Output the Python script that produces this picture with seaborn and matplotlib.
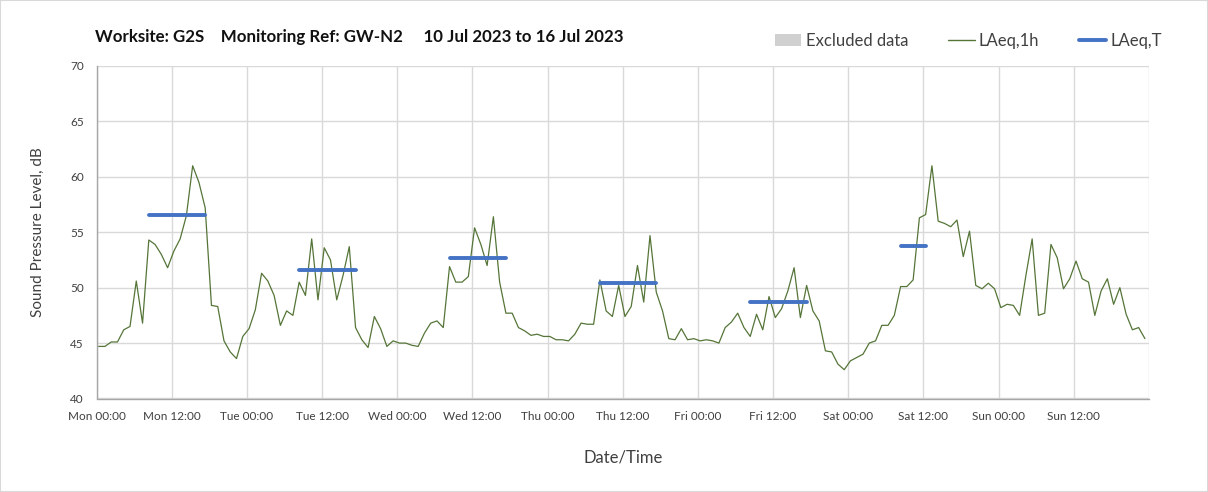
import numpy as np
import pandas as pd
import matplotlib
matplotlib.use("Agg")
import matplotlib.pyplot as plt
import seaborn as sns
from matplotlib.patches import Patch, Rectangle
from matplotlib.lines import Line2D

# ---- data -------------------------------------------------------------
days = ["Mon", "Tue", "Wed", "Thu", "Fri", "Sat", "Sun"]

# hourly LAeq,1h (dB), 00:00 .. 23:00 for each day
laeq_mon = [44.7, 44.7, 45.1, 45.1, 46.2, 46.5, 50.6, 46.8, 54.3, 53.9, 53.0, 51.8,
            53.3, 54.4, 56.5, 61.0, 59.5, 57.2, 48.4, 48.3, 45.2, 44.2, 43.6, 45.6]
laeq_tue = [46.3, 48.0, 51.3, 50.6, 49.3, 46.6, 47.9, 47.5, 50.5, 49.3, 54.4, 48.9,
            53.6, 52.5, 48.9, 51.1, 53.7, 46.4, 45.3, 44.6, 47.4, 46.3, 44.7, 45.2]
laeq_wed = [45.0, 45.0, 44.8, 44.7, 45.9, 46.8, 47.0, 46.4, 51.9, 50.5, 50.5, 51.0,
            55.4, 53.9, 52.0, 56.4, 50.5, 47.7, 47.7, 46.4, 46.1, 45.7, 45.8, 45.6]
laeq_thu = [45.6, 45.3, 45.3, 45.2, 45.8, 46.8, 46.7, 46.7, 50.7, 47.9, 47.4, 50.2,
            47.4, 48.3, 52.0, 48.7, 54.7, 49.6, 47.9, 45.4, 45.3, 46.3, 45.3, 45.4]
laeq_fri = [45.2, 45.3, 45.2, 45.0, 46.4, 46.9, 47.7, 46.4, 45.6, 47.6, 46.2, 49.2,
            47.3, 48.1, 49.7, 51.8, 47.3, 50.2, 47.9, 47.0, 44.3, 44.2, 43.1, 42.6]
laeq_sat = [43.4, 43.7, 44.0, 45.0, 45.2, 46.6, 46.6, 47.5, 50.1, 50.1, 50.7, 56.3,
            56.6, 61.0, 56.0, 55.8, 55.5, 56.1, 52.8, 55.1, 50.2, 49.9, 50.4, 49.9]
laeq_sun = [48.2, 48.5, 48.4, 47.5, 51.1, 54.4, 47.5, 47.7, 53.9, 52.7, 49.9, 50.8,
            52.4, 50.8, 50.5, 47.5, 49.7, 50.8, 48.5, 50.0, 47.6, 46.2, 46.4, 45.4]

# working-period LAeq,T (dB) and the first / last hour of each period
period_days = ["Mon", "Tue", "Wed", "Thu", "Fri", "Sat"]
period_first_hour = [8, 8, 8, 8, 8, 8]
period_last_hour = [17, 17, 17, 17, 17, 12]
laeq_t = [56.6, 51.6, 52.7, 50.4, 48.7, 53.8]

y_ticks = [40, 45, 50, 55, 60, 65, 70]

title_text = ("Worksite: G2S    Monitoring Ref: GW-N2     "
              "10 Jul 2023 to 16 Jul 2023")

# ---- frames -----------------------------------------------------------
PLOT_OFFSET_H = 0.35  # hourly values drawn slightly inside their interval

hourly = laeq_mon + laeq_tue + laeq_wed + laeq_thu + laeq_fri + laeq_sat + laeq_sun
df_hourly = pd.DataFrame({
    "hour": np.arange(len(hourly)) + PLOT_OFFSET_H,
    "level": hourly,
})

rows = []
for d, h0, h1, v in zip(period_days, period_first_hour, period_last_hour, laeq_t):
    base = days.index(d) * 24 + PLOT_OFFSET_H
    rows.append({"day": d, "hour": base + h0, "level": v})
    rows.append({"day": d, "hour": base + h1, "level": v})
df_period = pd.DataFrame(rows)

# ---- style ------------------------------------------------------------
sns.set_style("white")
plt.rcParams["font.family"] = ["Lato", "DejaVu Sans"]

GREEN = "#557538"
BLUE = "#4472C4"
GRID = "#d9d9d9"
AXIS = "#a6a6a6"
TEXT = "#404040"

fig = plt.figure(figsize=(12.08, 4.92), dpi=100)
ax = fig.add_axes([96.5 / 1208, 1 - 398.5 / 492, (1149 - 96.5) / 1208, (398.5 - 66) / 492])

sns.lineplot(data=df_hourly, x="hour", y="level", color=GREEN, linewidth=0.9,
             ax=ax, legend=False, zorder=3)
sns.lineplot(data=df_period, x="hour", y="level", units="day", estimator=None,
             color=BLUE, linewidth=2.8, ax=ax, legend=False, zorder=4)

ax.set_xlim(0, 168)
ax.set_ylim(40, 70)

x_ticks = np.arange(0, 169, 12)
x_labels = [f"{d} {t}" for d in days for t in ("00:00", "12:00")] + [""]
ax.set_xticks(x_ticks)
ax.set_xticklabels(x_labels)
ax.set_yticks(y_ticks)
ax.set_yticklabels([str(v) for v in y_ticks])

ax.grid(True, color=GRID, linewidth=1.0, zorder=0)
ax.set_axisbelow(True)
for side in ("top", "right"):
    ax.spines[side].set_visible(False)
for side in ("left", "bottom"):
    ax.spines[side].set_color(AXIS)
    ax.spines[side].set_linewidth(1.0)

ax.tick_params(axis="both", which="both", direction="out", length=5,
               width=0.8, color=AXIS, labelsize=8.5, labelcolor=TEXT, pad=4)

ax.set_xlabel("Date/Time", fontsize=12, color=TEXT, labelpad=20)
ax.set_ylabel("Sound Pressure Level, dB", fontsize=11, color=TEXT, labelpad=18)

fig.text(95 / 1208, 1 - 37 / 492, title_text, fontsize=12.2, fontweight="bold",
         color="#111111", ha="left", va="center")

handles = [
    Patch(facecolor="#d0d0d0", edgecolor="none"),
    Line2D([], [], color=GREEN, linewidth=1.0),
    Line2D([], [], color=BLUE, linewidth=2.8),
]
fig.legend(handles, ["Excluded data", "LAeq,1h", "LAeq,T"], ncol=3,
           loc="center left", bbox_to_anchor=(768 / 1208, 1 - 41 / 492),
           frameon=False, fontsize=12, handlelength=1.6, handletextpad=0.25,
           columnspacing=2.4, labelcolor=TEXT, borderaxespad=0)

fig.patches.append(Rectangle((0, 0), 1, 1, transform=fig.transFigure,
                             fill=False, edgecolor=GRID, linewidth=1.5))

fig.savefig("out.png", dpi=100, facecolor="white")
